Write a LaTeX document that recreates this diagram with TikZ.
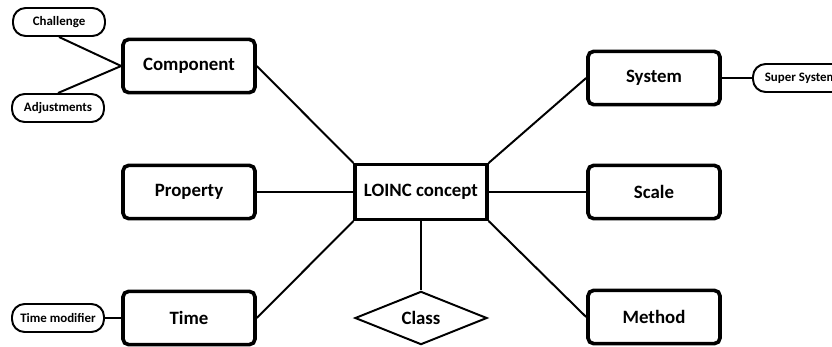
\documentclass[tikz,border=0pt]{standalone}
\usepackage{fontspec}
\setmainfont{Carlito}
\usetikzlibrary{shapes.geometric}
\begin{document}
\begin{tikzpicture}[x=0.025cm, y=-0.025cm,
  part/.style={draw, line width=2.6pt, rounded corners=4pt, minimum width=3.3cm,
    minimum height=1.33cm, font=\fontsize{13.4}{16}\selectfont\bfseries},
  concept/.style={draw, line width=2.2pt, minimum width=3.3cm, minimum height=1.37cm,
    font=\fontsize{13.4}{16}\selectfont\bfseries},
  pill/.style={draw, line width=1.4pt, rounded corners=9pt, minimum width=2.3cm,
    minimum height=0.7cm, inner sep=1pt, font=\fontsize{9.2}{11}\selectfont\bfseries},
  link/.style={line width=1.4pt}]
\useasboundingbox (0,0) rectangle (832,347);
% middle
\node[concept] (loinc) at (421,192) {LOINC concept};
\node[draw, line width=1.4pt, diamond, aspect=2.5, minimum width=3.3cm, minimum height=1.33cm,
  inner sep=0pt, font=\fontsize{13.4}{16}\selectfont\bfseries] (class) at (421,318) {Class};
% left side
\node[part] (comp) at (189,66) {Component};
\node[part] (prop) at (189,192) {Property};
\node[part] (time) at (189,318) {Time};
\node[pill] (chal) at (59,22) {Challenge};
\node[pill] (adj) at (58,108) {Adjustments};
\node[pill] (tmod) at (58,318) {Time modifier};
% right side
\node[part] (sys) at (654,78) {System};
\node[part] (scale) at (654,192) {Scale};
\node[part] (meth) at (654,317) {Method};
\node[pill, minimum width=2.4cm, anchor=west] (sup) at (752,78) {Super System};
% connectors
\draw[link] (chal.south) -- (comp.west);
\draw[link] (adj.north) -- (comp.west);
\draw[link] (comp.east) -- (loinc.north west);
\draw[link] (prop.east) -- (loinc.west);
\draw[link] (time.east) -- (loinc.south west);
\draw[link] (tmod.east) -- (time.west);
\draw[link] (sys.west) -- (loinc.north east);
\draw[link] (sys.east) -- (sup.west);
\draw[link] (loinc.east) -- (scale.west);
\draw[link] (loinc.south east) -- (meth.west);
\draw[link] (loinc.south) -- (class.north);
\end{tikzpicture}
\end{document}
